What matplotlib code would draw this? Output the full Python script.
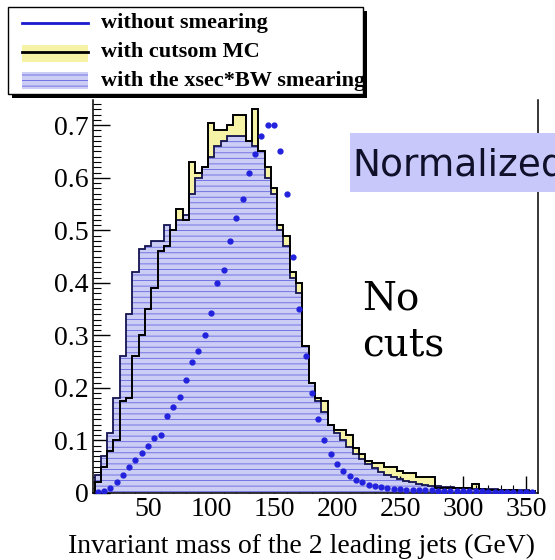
import numpy as np
import matplotlib.pyplot as plt
from matplotlib.patches import Rectangle

# bin centres of the 5 GeV histograms (GeV)
mass = np.arange(10, 360, 5)
edges = np.append(mass - 2.5, mass[-1] + 2.5)

# "with cutsom MC" (yellow)
custom_mc = [0.02, 0.05, 0.08, 0.10, 0.175, 0.18, 0.26, 0.30, 0.35, 0.39,
             0.46, 0.47, 0.50, 0.54, 0.52, 0.63, 0.61, 0.62, 0.705, 0.69,
             0.69, 0.70, 0.72, 0.72, 0.67, 0.73, 0.65, 0.62, 0.58, 0.51,
             0.49, 0.42, 0.40, 0.28, 0.21, 0.18, 0.175, 0.13, 0.12, 0.12,
             0.11, 0.085, 0.075, 0.06, 0.057, 0.057, 0.05, 0.05, 0.042, 0.038,
             0.038, 0.03, 0.03, 0.03, 0.01, 0.01, 0.01, 0.01, 0.01, 0.01,
             0.017, 0.008, 0.006, 0.006, 0.005, 0.005, 0.005, 0.004, 0.004, 0.004]

# "with the xsec*BW smearing" (hatched)
bw_smear = [0.035, 0.07, 0.115, 0.18, 0.26, 0.34, 0.42, 0.465, 0.47, 0.48,
            0.48, 0.51, 0.50, 0.52, 0.53, 0.57, 0.60, 0.62, 0.64, 0.66,
            0.67, 0.68, 0.68, 0.68, 0.67, 0.66, 0.65, 0.60, 0.57, 0.50,
            0.47, 0.41, 0.38, 0.28, 0.21, 0.175, 0.155, 0.13, 0.115, 0.10,
            0.088, 0.075, 0.065, 0.055, 0.047, 0.04, 0.035, 0.03, 0.026, 0.023,
            0.02, 0.018, 0.016, 0.014, 0.013, 0.012, 0.011, 0.010, 0.009, 0.009,
            0.008, 0.008, 0.007, 0.007, 0.006, 0.006, 0.005, 0.005, 0.005, 0.004]

# "without smearing" (blue points)
no_smear = [0.002, 0.004, 0.01, 0.02, 0.035, 0.05, 0.063, 0.076, 0.09, 0.105,
            0.11, 0.147, 0.164, 0.183, 0.215, 0.25, 0.27, 0.30, 0.343, 0.40,
            0.425, 0.48, 0.524, 0.56, 0.61, 0.645, 0.68, 0.70, 0.70, 0.65,
            0.57, 0.45, 0.35, 0.26, 0.19, 0.14, 0.10, 0.075, 0.055, 0.042,
            0.032, 0.025, 0.02, 0.016, 0.013, 0.011, 0.009, 0.008, 0.007, 0.006,
            0.006, 0.005, 0.005, 0.005, 0.004, 0.004, 0.004, 0.003, 0.003, 0.003,
            0.003, 0.003, 0.002, 0.002, 0.002, 0.002, 0.002, 0.002, 0.002, 0.002]

xticks = [50, 100, 150, 200, 250, 300, 350]
yticks = [0, 0.1, 0.2, 0.3, 0.4, 0.5, 0.6, 0.7]
ylabels = ['0', '0.1', '0.2', '0.3', '0.4', '0.5', '0.6', '0.7']

yellow = '#f6f3a6'
lightblue = '#cccdf5'
hatchblue = '#6464e0'
serif = 'Liberation Serif'

plt.rcParams['hatch.linewidth'] = 0.6

fig = plt.figure(figsize=(5.55, 5.6), dpi=100)
ax = fig.add_axes([93/555, 1-493/560, 445/555, 393/560])

ax.stairs(custom_mc, edges, fill=True, facecolor=yellow, edgecolor='none', zorder=1)
ax.stairs(bw_smear, edges, fill=True, facecolor=lightblue, edgecolor=hatchblue,
          hatch='---', linewidth=0, zorder=2)
ax.stairs(bw_smear, edges, color='#141450', linewidth=1.3, zorder=3)
ax.stairs(custom_mc, edges, color='black', linewidth=1.4, zorder=4)
ax.plot(mass, no_smear, 'o', color='#2222dd', markersize=3.5, zorder=5)

ax.set_xlim(6.3, 359.5)
ax.set_ylim(0, 0.748)
ax.set_xticks(xticks)
ax.set_xticklabels([str(v) for v in xticks])
ax.set_xticks(np.arange(10, 360, 10), minor=True)
ax.set_yticks(yticks)
ax.set_yticklabels(ylabels)
ax.set_yticks(np.arange(0, 0.745, 0.01), minor=True)
ax.tick_params(which='major', direction='in', length=12, width=1, top=False, right=False,
               labelsize=20, pad=3)
ax.tick_params(which='minor', direction='in', length=6, width=0.8, top=False, right=False)
for lab in ax.get_xticklabels() + ax.get_yticklabels():
    lab.set_fontfamily(serif)
for s in ax.spines.values():
    s.set_linewidth(1.1)
ax.spines['top'].set_visible(False)

fig.text(535/555, 1-553/560, 'Invariant mass of the 2 leading jets (GeV)', ha='right',
         va='baseline', fontsize=20, family=serif)

# overlay in pixel coordinates for the legend and the annotations
ov = fig.add_axes([0, 0, 1, 1], zorder=10)
ov.set_xlim(0, 555)
ov.set_ylim(560, 0)
ov.axis('off')

ov.add_patch(Rectangle((12, 11), 355, 87, facecolor='black', edgecolor='none'))
ov.add_patch(Rectangle((8, 7), 355, 87, facecolor='white', edgecolor='black', linewidth=1))
ov.plot([22, 88], [23, 23], color='#1a1ad0', linewidth=2)
ov.add_patch(Rectangle((22, 45), 66, 17, facecolor=yellow, edgecolor='none'))
ov.plot([22, 88], [52, 52], color='black', linewidth=2)
ov.add_patch(Rectangle((22, 72), 66, 17, facecolor=lightblue, edgecolor=hatchblue,
                       hatch='---', linewidth=0))
ov.text(101, 23, 'without smearing', fontsize=16, fontweight='bold', family=serif, va='center')
ov.text(101, 52, 'with cutsom MC', fontsize=16, fontweight='bold', family=serif, va='center')
ov.text(101, 81, 'with the xsec*BW smearing', fontsize=16, fontweight='bold', family=serif,
        va='center')

ov.add_patch(Rectangle((350, 133), 210, 59, facecolor='#c8c8fa', edgecolor='none'))
ov.text(352, 166, 'Normalized', fontsize=27, family='DejaVu Sans', va='center', color='#10102a')

ov.text(362, 310, 'No', fontsize=28, family='DejaVu Serif', va='baseline')
ov.text(362, 355, 'cuts', fontsize=28, family='DejaVu Serif', va='baseline')

fig.savefig('out.png', dpi=100)
